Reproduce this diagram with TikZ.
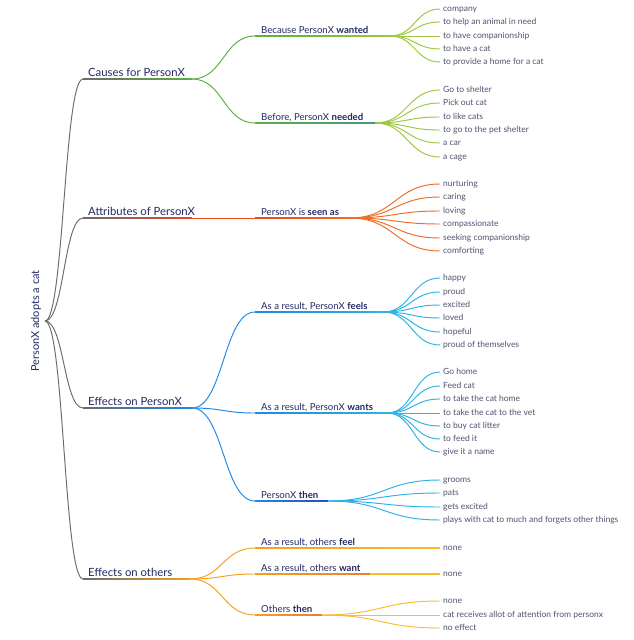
\documentclass[tikz,border=0pt]{standalone}
\usepackage{fontspec}
\setmainfont{Lato}
\usetikzlibrary{calc}
\definecolor{gry}{HTML}{6B6B6B}
\definecolor{grn}{HTML}{5DAE3F}
\definecolor{lgrn}{HTML}{9CC73E}
\definecolor{tealc}{HTML}{3E9A7E}
\definecolor{ored}{HTML}{E84A1C}
\definecolor{lor}{HTML}{F26B22}
\definecolor{blu}{HTML}{1E88E5}
\definecolor{lblu}{HTML}{2BB3E6}
\definecolor{dblu}{HTML}{2C4CC0}
\definecolor{org}{HTML}{F5A01E}
\definecolor{lorg}{HTML}{FBBB2A}
\definecolor{rorg}{HTML}{EE7A3C}
\definecolor{navy}{HTML}{232A63}
\definecolor{leaftxt}{HTML}{50546F}
\newcommand\scurv[3]{\draw[conn,#3] let \p1=(#1), \p2=(#2) in (\p1) .. controls ({(\x1+\x2)/2},\y1) and ({(\x1+\x2)/2},\y2) .. (\p2);}
\newcommand\ulin[4]{\shade[left color=#3,right color=#4] ($(#1)+(0,-0.45)$) rectangle ($(#2)+(0,0.45)$);}
\newcommand\leafitem[5]{%
  \coordinate (#1) at (440,#2);
  \node[leaf] (#1t) at (443,#2+2.7) {#3};
  \scurv{#5}{#1}{#4}}
\begin{document}
\begin{tikzpicture}[x=1pt,y=-1pt,
  conn/.style={line width=0.95pt},
  rootlbl/.style={font=\fontsize{11}{13}\selectfont, text=navy, inner sep=0},
  lvone/.style={font=\fontsize{11.3}{13}\selectfont, text=navy, inner sep=0, anchor=base west},
  lvtwo/.style={font=\fontsize{9.6}{11}\selectfont, text=navy, inner sep=0, anchor=base west},
  leaf/.style={font=\fontsize{8.5}{10}\selectfont, text=leaftxt, inner sep=0, anchor=base west}]
\useasboundingbox (0,0) rectangle (634,640);
\fill[white] (0,0) rectangle (634,640);

% root
\node[rootlbl, rotate=90] (root) at (36,321) {PersonX adopts a cat};
\coordinate (r) at (45,321);

% ---------- Causes
\coordinate (c1s) at (83,79); \coordinate (c1e) at (192,79);
\scurv{r}{c1s}{gry}
\ulin{c1s}{c1e}{gry}{grn}
\node[lvone] (c1) at (88,76.5) {Causes for PersonX};

\coordinate (w1s) at (255,36); \coordinate (w1e) at (390,36);
\scurv{c1e}{w1s}{grn}
\ulin{w1s}{w1e}{grn}{lgrn}
\node[lvtwo] (w1) at (261,33) {Because PersonX \textbf{wanted}};
\leafitem{w1a}{9}{company}{lgrn}{w1e}
\leafitem{w1b}{22}{to help an animal in need}{lgrn}{w1e}
\leafitem{w1c}{36}{to have companionship}{lgrn}{w1e}
\leafitem{w1d}{49}{to have a cat}{lgrn}{w1e}
\leafitem{w1f}{62}{to provide a home for a cat}{lgrn}{w1e}

\coordinate (n1s) at (255,123); \coordinate (n1e) at (375,123);
\scurv{c1e}{n1s}{grn}
\ulin{n1s}{n1e}{grn}{tealc}
\node[lvtwo] (n1) at (261,120) {Before, PersonX \textbf{needed}};
\leafitem{n1a}{90}{Go to shelter}{lgrn}{n1e}
\leafitem{n1b}{103}{Pick out cat}{lgrn}{n1e}
\leafitem{n1c}{117}{to like cats}{lgrn}{n1e}
\leafitem{n1d}{130}{to go to the pet shelter}{lgrn}{n1e}
\leafitem{n1f}{143}{a car}{lgrn}{n1e}
\leafitem{n1g}{157}{a cage}{lgrn}{n1e}

% ---------- Attributes
\coordinate (a1s) at (83,218); \coordinate (a1e) at (192,218);
\scurv{r}{a1s}{gry}
\ulin{a1s}{a1e}{gry}{ored}
\node[lvone] (a1) at (88,215.5) {Attributes of PersonX};
\coordinate (s1s) at (255,218); \coordinate (s1e) at (350,218);
\scurv{a1e}{s1s}{ored}
\ulin{s1s}{s1e}{ored}{lor}
\node[lvtwo] (s1) at (261,215) {PersonX is \textbf{seen as}};
\leafitem{s1a}{184}{nurturing}{lor}{s1e}
\leafitem{s1b}{197}{caring}{lor}{s1e}
\leafitem{s1c}{211}{loving}{lor}{s1e}
\leafitem{s1d}{224}{compassionate}{lor}{s1e}
\leafitem{s1f}{238}{seeking companionship}{lor}{s1e}
\leafitem{s1g}{251}{comforting}{lor}{s1e}

% ---------- Effects on PersonX
\coordinate (e1s) at (83,408); \coordinate (e1e) at (192,408);
\scurv{r}{e1s}{gry}
\ulin{e1s}{e1e}{gry}{blu}
\node[lvone] (e1) at (88,405.5) {Effects on PersonX};

\coordinate (f1s) at (255,312); \coordinate (f1e) at (383,312);
\scurv{e1e}{f1s}{blu}
\ulin{f1s}{f1e}{blu}{lblu}
\node[lvtwo] (f1) at (261,309) {As a result, PersonX \textbf{feels}};
\leafitem{f1a}{278}{happy}{lblu}{f1e}
\leafitem{f1b}{292}{proud}{lblu}{f1e}
\leafitem{f1c}{305}{excited}{lblu}{f1e}
\leafitem{f1d}{318}{loved}{lblu}{f1e}
\leafitem{f1f}{332}{hopeful}{lblu}{f1e}
\leafitem{f1g}{345}{proud of themselves}{lblu}{f1e}

\coordinate (x1s) at (255,413); \coordinate (x1e) at (387,413);
\scurv{e1e}{x1s}{blu}
\ulin{x1s}{x1e}{blu}{lblu}
\node[lvtwo] (x1) at (261,410) {As a result, PersonX \textbf{wants}};
\leafitem{x1a}{372}{Go home}{lblu}{x1e}
\leafitem{x1b}{386}{Feed cat}{lblu}{x1e}
\leafitem{x1c}{399}{to take the cat home}{lblu}{x1e}
\leafitem{x1d}{413}{to take the cat to the vet}{lblu}{x1e}
\leafitem{x1f}{426}{to buy cat litter}{lblu}{x1e}
\leafitem{x1g}{439}{to feed it}{lblu}{x1e}
\leafitem{x1h}{452}{give it a name}{lblu}{x1e}

\coordinate (t1s) at (255,501); \coordinate (t1e) at (328,501);
\scurv{e1e}{t1s}{blu}
\ulin{t1s}{t1e}{blu}{dblu}
\node[lvtwo] (t1) at (261,498) {PersonX \textbf{then}};
\leafitem{t1a}{480}{grooms}{lblu}{t1e}
\leafitem{t1b}{493}{pats}{lblu}{t1e}
\leafitem{t1c}{507}{gets excited}{lblu}{t1e}
\leafitem{t1d}{520}{plays with cat to much and forgets other things}{lblu}{t1e}

% ---------- Effects on others
\coordinate (o1s) at (83,579); \coordinate (o1e) at (190,579);
\scurv{r}{o1s}{gry}
\ulin{o1s}{o1e}{gry}{org}
\node[lvone] (o1) at (88,576.5) {Effects on others};

\coordinate (p1s) at (255,548);
\scurv{o1e}{p1s}{org}
\node[lvtwo] (p1) at (261,545) {As a result, others \textbf{feel}};
\coordinate (p1a) at (440,548);
\ulin{p1s}{p1a}{org}{lorg}
\node[leaf] (p1at) at (443,550.7) {none};

\coordinate (q1s) at (255,574);
\scurv{o1e}{q1s}{org}
\node[lvtwo] (q1) at (261,571) {As a result, others \textbf{want}};
\coordinate (q1m) at (370,574); \coordinate (q1a) at (440,574);
\ulin{q1s}{q1m}{org}{rorg}
\ulin{q1m}{q1a}{lorg}{lorg}
\node[leaf] (q1at) at (443,576.7) {none};

\coordinate (h1s) at (255,615); \coordinate (h1e) at (322,615);
\scurv{o1e}{h1s}{org}
\ulin{h1s}{h1e}{org}{rorg}
\node[lvtwo] (h1) at (261,612) {Others \textbf{then}};
\leafitem{h1a}{601}{none}{lorg}{h1e}
\leafitem{h1b}{615}{cat receives allot of attention from personx}{lorg}{h1e}
\leafitem{h1c}{628}{no effect}{lorg}{h1e}
\end{tikzpicture}
\end{document}
